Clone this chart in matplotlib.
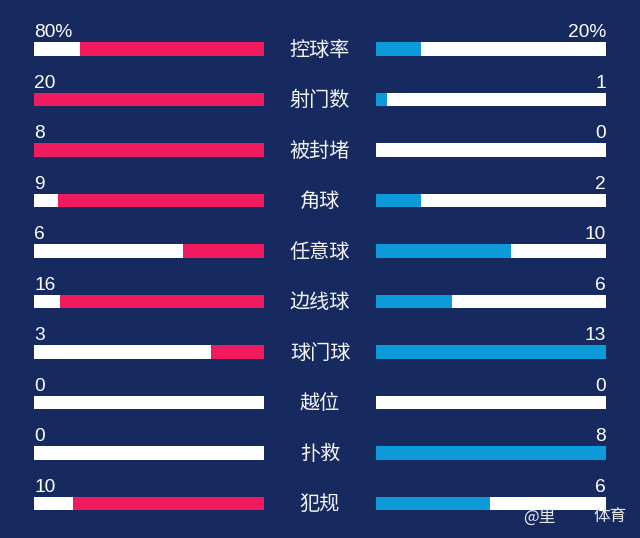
import matplotlib
matplotlib.use("Agg")
import matplotlib.pyplot as plt

# ---- data ----
categories = ["控球率", "射门数", "被封堵", "角球", "任意球", "边线球", "球门球", "越位", "扑救", "犯规"]
left_labels = ["80%", "20", "8", "9", "6", "16", "3", "0", "0", "10"]
right_labels = ["20%", "1", "0", "2", "10", "6", "13", "0", "8", "6"]
# fraction of each bar that is filled
left_fill = [0.80, 1.0, 1.0, 0.897, 0.352, 0.887, 0.229, 0.0, 0.0, 0.832]
right_fill = [0.197, 0.048, 0.0, 0.197, 0.588, 0.332, 1.0, 0.0, 1.0, 0.497]

# ---- style ----
BG = "#172a5f"
PINK = "#f01a5f"
BLUE = "#0d9ad9"
WHITE = "#ffffff"

W, H = 640, 538
fig = plt.figure(figsize=(W / 100, H / 100), dpi=100, facecolor=BG)
ax = fig.add_axes([0, 0, 1, 1])
ax.set_facecolor(BG)
ax.set_xlim(0, W)
ax.set_ylim(H, 0)
ax.axis("off")

L0, BW, R0 = 34, 230, 376
BH = 13.4
y0, dy = 49, 50.5
ys = [y0 + dy * i for i in range(len(categories))]

num_font = ["Liberation Sans", "DejaVu Sans"]
cjk_font = ["Noto Sans CJK SC", "DejaVu Sans"]

for y, cat, ll, rl, lf, rf in zip(ys, categories, left_labels, right_labels, left_fill, right_fill):
    # left bar
    ax.barh(y, BW, left=L0, height=BH, color=WHITE, linewidth=0)
    if lf > 0:
        ax.barh(y, BW * lf, left=L0 + BW * (1 - lf), height=BH, color=PINK, linewidth=0)
    # right bar
    ax.barh(y, BW, left=R0, height=BH, color=WHITE, linewidth=0)
    if rf > 0:
        ax.barh(y, BW * rf, left=R0, height=BH, color=BLUE, linewidth=0)
    top = y - BH / 2
    ax.text(L0, top - 5, ll, color=WHITE, fontsize=13.8, family=num_font,
            ha="left", va="baseline")
    ax.text(R0 + BW, top - 5, rl, color=WHITE, fontsize=13.8, family=num_font,
            ha="right", va="baseline")
    ax.text(320, y + 1, cat, color="#f4f4f4", fontsize=14.5, family=cjk_font,
            ha="center", va="center")

# watermark
ax.text(539, 517, "@里", color="#e8e8e8", fontsize=12, family=cjk_font, ha="center", va="center")
ax.text(610, 517, "体育", color="#e8e8e8", fontsize=12, family=cjk_font, ha="center", va="center")

fig.savefig("out.png", dpi=100, facecolor=BG)
